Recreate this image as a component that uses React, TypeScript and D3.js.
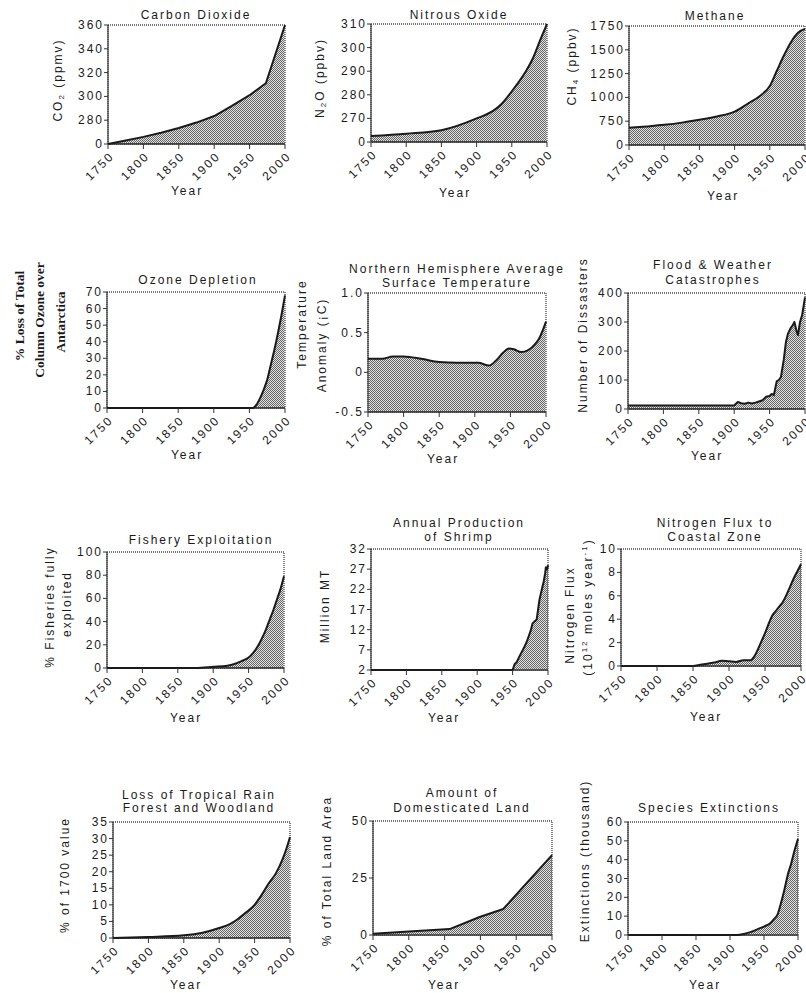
import React from 'react';
import * as d3 from 'd3';

type Pt = [number, number];

// --- data (years, values in plotted units) ---
const yearTicks = [1750, 1800, 1850, 1900, 1950, 2000];

const co2Data: Pt[] = [[1750, 260], [1775, 263], [1800, 266], [1825, 269.5], [1850, 273.5], [1875, 278], [1900, 283.5], [1925, 292], [1950, 301], [1973, 311], [2000, 360]];
const co2Ticks = [260, 280, 300, 320, 340, 360];
const co2TickLabels = ['0', '280', '300', '320', '340', '360'];

const n2oData: Pt[] = [[1750, 262.5], [1800, 263.5], [1850, 265], [1900, 270], [1925, 273.5], [1935, 276], [1950, 281.5], [1960, 285.5], [1970, 290], [1980, 295.5], [1990, 303], [1995, 306.5], [2000, 310]];
const n2oTicks = [260, 270, 280, 290, 300, 310];
const n2oTickLabels = ['0', '270', '280', '290', '300', '310'];

const ch4Data: Pt[] = [[1750, 680], [1775, 695], [1800, 712], [1825, 735], [1850, 765], [1875, 800], [1900, 850], [1920, 940], [1935, 1010], [1950, 1120], [1960, 1280], [1970, 1440], [1980, 1580], [1990, 1680], [2000, 1720]];
const ch4Ticks = [500, 750, 1000, 1250, 1500, 1750];
const ch4TickLabels = ['0', '750', '1000', '1250', '1500', '1750'];

const ozoneData: Pt[] = [[1750, 0], [1955, 0], [1960, 2], [1965, 6], [1970, 11], [1975, 17], [1980, 26], [1985, 35], [1990, 45], [1995, 56], [2000, 68]];
const ozoneTicks = [0, 10, 20, 30, 40, 50, 60, 70];

const tempData: Pt[] = [[1750, 0.17], [1770, 0.17], [1785, 0.2], [1800, 0.2], [1825, 0.17], [1850, 0.13], [1875, 0.12], [1905, 0.12], [1920, 0.085], [1930, 0.15], [1940, 0.25], [1948, 0.3], [1955, 0.29], [1965, 0.255], [1975, 0.28], [1985, 0.36], [1990, 0.42], [1995, 0.52], [2000, 0.64]];
const tempTicks = [-0.5, 0, 0.5, 1.0];
const tempTickLabels = ['-0.5', '0', '0.5', '1.0'];

const floodData: Pt[] = [[1750, 12], [1900, 12], [1905, 24], [1910, 20], [1915, 18], [1920, 22], [1925, 19], [1930, 22], [1935, 26], [1940, 30], [1945, 42], [1950, 45], [1953, 52], [1956, 48], [1960, 95], [1963, 100], [1966, 110], [1970, 170], [1973, 230], [1976, 260], [1980, 280], [1983, 290], [1985, 300], [1988, 270], [1990, 255], [1993, 300], [1996, 325], [2000, 385]];
const floodTicks = [0, 100, 200, 300, 400];

const fishData: Pt[] = [[1750, 0], [1875, 0], [1900, 1], [1920, 2], [1930, 3.5], [1940, 6], [1950, 9], [1955, 12], [1960, 16], [1965, 21], [1970, 27], [1975, 34], [1980, 42], [1985, 50], [1990, 59], [1995, 68], [2000, 79]];
const fishTicks = [0, 20, 40, 60, 80, 100];

const shrimpData: Pt[] = [[1750, 2], [1950, 2], [1953, 3.5], [1956, 4], [1960, 5.5], [1963, 6.5], [1966, 7.5], [1970, 9], [1973, 10.5], [1976, 12], [1978, 13.5], [1981, 14], [1984, 14.5], [1986, 17], [1988, 19.5], [1990, 21], [1992, 22.5], [1994, 24], [1996, 26], [1997, 27.5], [1999, 27], [2000, 28]];
const shrimpTicks = [2, 7, 12, 17, 22, 27, 32];

const nitroData: Pt[] = [[1750, 0], [1850, 0], [1860, 0.1], [1870, 0.2], [1880, 0.3], [1890, 0.45], [1900, 0.4], [1910, 0.35], [1920, 0.5], [1930, 0.5], [1935, 0.8], [1940, 1.4], [1945, 2.1], [1950, 2.8], [1955, 3.6], [1960, 4.3], [1965, 4.7], [1970, 5.1], [1975, 5.5], [1980, 6.1], [1985, 6.8], [1990, 7.5], [1995, 8.1], [2000, 8.7]];
const nitroTicks = [0, 2, 4, 6, 8, 10];

const rainData: Pt[] = [[1750, 0], [1800, 0.3], [1850, 0.8], [1875, 1.5], [1900, 3], [1915, 4.2], [1925, 5.5], [1935, 7.2], [1950, 10], [1960, 13], [1970, 16.5], [1980, 19.5], [1990, 24], [1995, 27], [2000, 30.5]];
const rainTicks = [0, 5, 10, 15, 20, 25, 30, 35];

const landData: Pt[] = [[1750, 0.5], [1800, 1.5], [1857, 2.6], [1899, 7.9], [1932, 11.4], [2000, 35]];
const landTicks = [0, 25, 50];

const extData: Pt[] = [[1750, 0], [1910, 0], [1920, 0.5], [1930, 1.5], [1940, 3], [1950, 4.5], [1960, 6.5], [1965, 8.5], [1970, 11], [1975, 17], [1980, 24], [1985, 32], [1990, 38], [1995, 45], [2000, 51]];
const extTicks = [0, 10, 20, 30, 40, 50, 60];

const FONT = '"Liberation Sans", Arial, Helvetica, sans-serif';
const SERIF = '"Liberation Serif", "Times New Roman", serif';

// chemical formula with a subscript digit, e.g. CO2 -> CO₂
const formula = (head: string, low: string, rest: string) => (
  <>
    {head}
    <tspan dy={3} fontSize={8}>{low}</tspan>
    <tspan dy={-3}>{rest}</tspan>
  </>
);

interface Panel {
  title: string[];
  titleX: number;
  titleY: number[];
  yLabel: React.ReactNode[];
  labelX: number[];
  labelY: number[];
  data: Pt[];
  domain: [number, number];
  ticks: number[];
  tickLabels?: string[];
  box: [number, number, number, number];
  yearX: number;
  yearY: number;
  smooth: boolean;
  serif?: boolean;
}

const panels: Panel[] = [
  {
    title: ['Carbon Dioxide'], titleX: 196, titleY: [15],
    yLabel: [formula('CO', '2', ' (ppmv)')], labelX: [58], labelY: [80],
    data: co2Data, domain: [260, 360], ticks: co2Ticks, tickLabels: co2TickLabels,
    box: [108, 285, 25, 144], yearX: 187, yearY: 191, smooth: false,
  },
  {
    title: ['Nitrous Oxide'], titleX: 459, titleY: [15],
    yLabel: [formula('N', '2', 'O (ppbv)')], labelX: [320], labelY: [78],
    data: n2oData, domain: [260, 310], ticks: n2oTicks, tickLabels: n2oTickLabels,
    box: [371, 547, 24, 142], yearX: 455, yearY: 193, smooth: true,
  },
  {
    title: ['Methane'], titleX: 715, titleY: [16],
    yLabel: [formula('CH', '4', ' (ppbv)')], labelX: [572], labelY: [66],
    data: ch4Data, domain: [500, 1750], ticks: ch4Ticks, tickLabels: ch4TickLabels,
    box: [629, 805, 26, 145], yearX: 723, yearY: 196, smooth: true,
  },
  {
    title: ['Ozone Depletion'], titleX: 198, titleY: [280],
    yLabel: ['% Loss of Total', 'Column Ozone over', 'Antarctica'], labelX: [19, 39, 60], labelY: [316, 320, 322],
    data: ozoneData, domain: [0, 70], ticks: ozoneTicks,
    box: [107, 285, 292, 408], yearX: 187, yearY: 455, smooth: true, serif: true,
  },
  {
    title: ['Northern Hemisphere Average', 'Surface Temperature'], titleX: 457, titleY: [269, 283],
    yLabel: ['Temperature', 'Anomaly (¡C)'], labelX: [302, 322], labelY: [324, 345],
    data: tempData, domain: [-0.5, 1.0], ticks: tempTicks, tickLabels: tempTickLabels,
    box: [368, 546, 293, 412], yearX: 443, yearY: 459, smooth: true,
  },
  {
    title: ['Flood & Weather', 'Catastrophes'], titleX: 713, titleY: [265, 280],
    yLabel: ['Number of Dissasters'], labelX: [583], labelY: [335],
    data: floodData, domain: [0, 400], ticks: floodTicks,
    box: [628, 805, 293, 409], yearX: 707, yearY: 456, smooth: false,
  },
  {
    title: ['Fishery Exploitation'], titleX: 201, titleY: [540],
    yLabel: ['% Fisheries fully', 'exploited'], labelX: [50, 67], labelY: [607, 604],
    data: fishData, domain: [0, 100], ticks: fishTicks,
    box: [107, 284, 552, 668], yearX: 186, yearY: 718, smooth: true,
  },
  {
    title: ['Annual Production', 'of Shrimp'], titleX: 459, titleY: [523, 537],
    yLabel: ['Million MT'], labelX: [325], labelY: [606],
    data: shrimpData, domain: [2, 32], ticks: shrimpTicks,
    box: [371, 548, 549, 670], yearX: 444, yearY: 718, smooth: false,
  },
  {
    title: ['Nitrogen Flux to', 'Coastal Zone'], titleX: 715, titleY: [523, 537],
    yLabel: ['Nitrogen Flux', <>(10<tspan dy={-4} fontSize={8}>12</tspan><tspan dy={4}> moles year</tspan><tspan dy={-4} fontSize={8}>-1</tspan><tspan dy={4}>)</tspan></>],
    labelX: [570, 588], labelY: [615, 607],
    data: nitroData, domain: [0, 10], ticks: nitroTicks,
    box: [621, 801, 549, 666], yearX: 706, yearY: 717, smooth: true,
  },
  {
    title: ['Loss of Tropical Rain', 'Forest and Woodland'], titleX: 199, titleY: [795, 808],
    yLabel: ['% of 1700  value'], labelX: [65], labelY: [875],
    data: rainData, domain: [0, 35], ticks: rainTicks,
    box: [113, 290, 822, 938], yearX: 186, yearY: 985, smooth: true,
  },
  {
    title: ['Amount of', 'Domesticated Land'], titleX: 462, titleY: [793, 808],
    yLabel: ['% of Total Land Area'], labelX: [327], labelY: [871],
    data: landData, domain: [0, 50], ticks: landTicks,
    box: [373, 552, 821, 935], yearX: 444, yearY: 985, smooth: false,
  },
  {
    title: ['Species Extinctions'], titleX: 709, titleY: [808],
    yLabel: ['Extinctions (thousand)'], labelX: [585], labelY: [861],
    data: extData, domain: [0, 60], ticks: extTicks,
    box: [628, 798, 822, 935], yearX: 705, yearY: 985, smooth: true,
  },
];

const textStyle = { fontFamily: FONT, fontSize: 12, letterSpacing: 2, fill: '#1a1a1a' } as const;

function PanelChart({ p }: { p: Panel }) {
  const [x0, x1, y0, y1] = p.box;
  const x = d3.scaleLinear().domain([1750, 2000]).range([x0, x1]);
  const y = d3.scaleLinear().domain(p.domain).range([y1, y0]);
  const curve = p.smooth ? d3.curveMonotoneX : d3.curveLinear;
  const area = d3.area<Pt>().x(d => x(d[0])).y0(y1).y1(d => y(d[1])).curve(curve);
  const line = d3.line<Pt>().x(d => x(d[0])).y(d => y(d[1])).curve(curve);

  return (
    <g>
      <path d={area(p.data) ?? ''} fill="url(#stipple)" />
      <rect x={x0} y={y0} width={x1 - x0} height={y1 - y0} fill="none" stroke="#777" strokeWidth={1.8} strokeDasharray="1 1" />
      <line x1={x0} x2={x0} y1={y0} y2={y1} stroke="#333" strokeWidth={1.6} strokeDasharray="1 1" />
      <line x1={x0} x2={x1} y1={y1} y2={y1} stroke="#333" strokeWidth={1.6} />
      <path d={line(p.data) ?? ''} fill="none" stroke="#1a1a1a" strokeWidth={2} strokeLinejoin="round" />

      {p.ticks.map((t, i) => (
        <g key={'y' + t}>
          <line x1={x0 - 4} x2={x0} y1={y(t)} y2={y(t)} stroke="#333" strokeWidth={1} />
          <text x={x0 - 4} y={y(t)} textAnchor="end" dominantBaseline="central" style={textStyle}>
            {p.tickLabels ? p.tickLabels[i] : String(t)}
          </text>
        </g>
      ))}

      {yearTicks.map(t => (
        <g key={'x' + t}>
          <line x1={x(t)} x2={x(t)} y1={y1} y2={y1 + 5} stroke="#333" strokeWidth={1} />
          <text transform={`translate(${x(t) + 4},${y1 + 10}) rotate(-45)`} textAnchor="end" dominantBaseline="central" style={textStyle}>
            {t}
          </text>
        </g>
      ))}

      {p.title.map((s, i) => (
        <text key={'t' + i} x={p.titleX} y={p.titleY[i]} textAnchor="middle" dominantBaseline="central" style={textStyle}>{s}</text>
      ))}

      {p.yLabel.map((s, i) => (
        <text
          key={'l' + i}
          transform={`translate(${p.labelX[i]},${p.labelY[i]}) rotate(-90)`}
          textAnchor="middle"
          dominantBaseline="central"
          style={p.serif ? { fontFamily: SERIF, fontSize: 13.5, fontWeight: 'bold', fill: '#1a1a1a' } : textStyle}
        >
          {s}
        </text>
      ))}

      <text x={p.yearX} y={p.yearY} textAnchor="middle" dominantBaseline="central" style={textStyle}>Year</text>
    </g>
  );
}

export default function App() {
  return (
    <div style={{ position: 'absolute', left: 0, top: 0 }}>
      <svg width={806} height={993} style={{ display: 'block', background: '#fff' }}>
        <defs>
          <pattern id="stipple" width={2} height={2} patternUnits="userSpaceOnUse">
            <rect width={2} height={2} fill="#e2e2e2" />
            <rect width={1} height={1} fill="#666" />
            <rect x={1} y={1} width={1} height={1} fill="#666" />
          </pattern>
        </defs>
        {panels.map((p, i) => <PanelChart key={i} p={p} />)}
      </svg>
    </div>
  );
}
